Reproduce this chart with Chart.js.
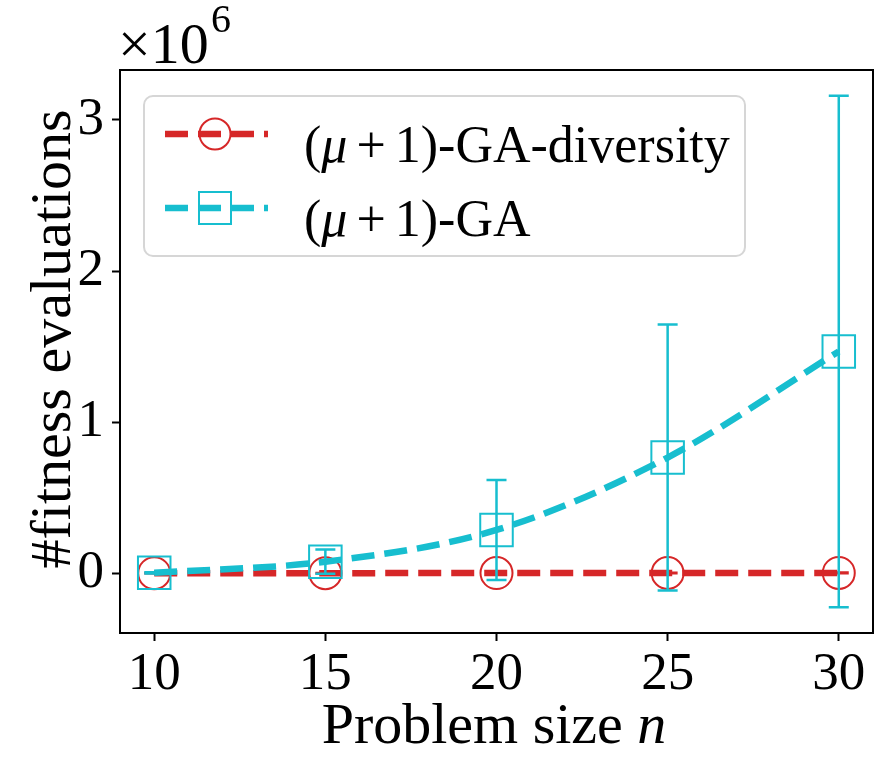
<!DOCTYPE html>
<html>
<head>
<meta charset="utf-8">
<script src="https://cdn.jsdelivr.net/npm/chart.js@4"></script>
<style>
  html, body { margin: 0; padding: 0; background: #fff; }
  #wrap { width: 888px; height: 773px; }
</style>
</head>
<body>
<div id="wrap"><canvas id="chart" width="888" height="773"></canvas></div>
<script>
// Problem sizes and fitness evaluations (in units of 1e6)
const sizes = [10, 15, 20, 25, 30];
const xTicks = [10, 15, 20, 25, 30];
const yTicks = [0, 1, 2, 3];

const diversityMean = [0.0005, 0.001, 0.0015, 0.002, 0.0025];
const diversityErr = [0.0005, 0.001, 0.0015, 0.002, 0.0025];

const gaMean = [0.003, 0.077, 0.287, 0.766, 1.468];
const gaErr = [0.004, 0.08, 0.331, 0.88, 1.692];

const RED = '#d62728';
const CYAN = '#17becf';
const SERIF = '"Liberation Serif", "DejaVu Serif", serif';
const FS = 53;
const PLOT_RIGHT = 873;

function toPoints(xs, ys) {
    return xs.map((x, i) => ({ x: x, y: ys[i] }));
}

// keep the plot area's right edge where the figure has it,
// instead of letting the last tick label push it in
const fixArea = {
    id: 'fixArea',
    afterLayout(chart) {
        const xs = chart.scales.x;
        chart.chartArea.right = PLOT_RIGHT;
        chart.chartArea.width = PLOT_RIGHT - chart.chartArea.left;
        xs.right = PLOT_RIGHT;
        xs.width = PLOT_RIGHT - xs.left;
        xs.configure();
    }
};

// error bars drawn through the chart scales
const errorBars = {
    id: 'errorBars',
    beforeDatasetDraw(chart, args) {
        const ds = chart.data.datasets[args.index];
        if (!ds.errors) return;
        const xs = chart.scales.x, ys = chart.scales.y;
        const ctx = chart.ctx;
        ctx.save();
        ctx.strokeStyle = ds.borderColor;
        ctx.lineWidth = 2.5;
        ctx.setLineDash([]);
        ds.data.forEach((p, i) => {
            const px = xs.getPixelForValue(p.x);
            const top = ys.getPixelForValue(p.y + ds.errors[i]);
            const bot = ys.getPixelForValue(p.y - ds.errors[i]);
            ctx.beginPath();
            ctx.moveTo(px, top); ctx.lineTo(px, bot);
            ctx.moveTo(px - 10, top); ctx.lineTo(px + 10, top);
            ctx.moveTo(px - 10, bot); ctx.lineTo(px + 10, bot);
            ctx.stroke();
        });
        ctx.restore();
    }
};

// draw a run of text pieces, some in italic
function drawMath(ctx, x, y, size, pieces) {
    pieces.forEach(([t, it]) => {
        ctx.font = (it ? 'italic ' : '') + size + 'px ' + SERIF;
        ctx.fillText(t, x, y);
        x += ctx.measureText(t).width;
    });
    return x;
}

const decorations = {
    id: 'decorations',
    afterDraw(chart) {
        const ctx = chart.ctx;
        const a = chart.chartArea;
        ctx.save();
        // frame
        ctx.strokeStyle = '#000';
        ctx.lineWidth = 2;
        ctx.strokeRect(a.left, a.top, a.right - a.left, a.bottom - a.top);

        ctx.fillStyle = '#000';
        ctx.textBaseline = 'alphabetic';
        ctx.textAlign = 'left';

        // offset text
        ctx.font = '58px ' + SERIF;
        ctx.fillText('\u00d710', 118, 63);
        ctx.font = '40px ' + SERIF;
        ctx.fillText('6', 211, 32);

        // x title
        ctx.font = '58px ' + SERIF;
        const w1 = ctx.measureText('Problem size ').width;
        ctx.font = 'italic 58px ' + SERIF;
        const w2 = ctx.measureText('n').width;
        drawMath(ctx, 494 - (w1 + w2) / 2, 743, 58, [['Problem size ', false], ['n', true]]);

        // y title
        ctx.save();
        ctx.translate(70, 339);
        ctx.rotate(-Math.PI / 2);
        ctx.textAlign = 'center';
        ctx.font = '58px ' + SERIF;
        ctx.fillText('#fitness evaluations', 0, 0);
        ctx.restore();

        // legend
        const lx = 144, ly = 96, lw = 601, lh = 160, r = 9;
        ctx.beginPath();
        ctx.moveTo(lx + r, ly);
        ctx.arcTo(lx + lw, ly, lx + lw, ly + lh, r);
        ctx.arcTo(lx + lw, ly + lh, lx, ly + lh, r);
        ctx.arcTo(lx, ly + lh, lx, ly, r);
        ctx.arcTo(lx, ly, lx + lw, ly, r);
        ctx.closePath();
        ctx.fillStyle = 'rgba(255,255,255,0.8)';
        ctx.fill();
        ctx.strokeStyle = '#d6d6d6';
        ctx.lineWidth = 2;
        ctx.stroke();

        const rows = [
            { y: 134, color: RED, marker: 'circle', label: '-GA-diversity' },
            { y: 208, color: CYAN, marker: 'rect', label: '-GA' }
        ];
        rows.forEach(row => {
            ctx.strokeStyle = row.color;
            ctx.lineWidth = 6.5;
            ctx.setLineDash([23, 10]);
            ctx.beginPath();
            ctx.moveTo(165, row.y); ctx.lineTo(268, row.y);
            ctx.stroke();
            ctx.setLineDash([]);
            ctx.lineWidth = 2;
            ctx.beginPath();
            if (row.marker === 'circle') {
                ctx.arc(215, row.y, 15.5, 0, Math.PI * 2);
            } else {
                ctx.rect(215 - 16, row.y - 16, 32, 32);
            }
            ctx.stroke();

            ctx.fillStyle = '#000';
            const by = row.y + 28;
            const ls = 52;
            let x = drawMath(ctx, 304, by, ls, [['(', false], ['\u03bc', true]]);
            x += 9;
            x = drawMath(ctx, x, by, ls, [['+', false]]);
            x += 9;
            drawMath(ctx, x, by, ls, [['1)', false], [row.label, false]]);
        });
        ctx.restore();
    }
};

const ctx = document.getElementById('chart').getContext('2d');
const chart = new Chart(ctx, {
    type: 'line',
    data: {
        datasets: [
            {
                label: '(\u03bc+1)-GA-diversity',
                data: toPoints(sizes, diversityMean),
                errors: diversityErr,
                borderColor: RED,
                borderWidth: 6.5,
                borderDash: [23, 10],
                pointStyle: 'circle',
                pointRadius: 16,
                pointBorderWidth: 2,
                pointBackgroundColor: 'rgba(0,0,0,0)',
                pointBorderColor: RED,
                fill: false,
                order: 2
            },
            {
                label: '(\u03bc+1)-GA',
                data: toPoints(sizes, gaMean),
                errors: gaErr,
                borderColor: CYAN,
                borderWidth: 6.5,
                borderDash: [23, 10],
                pointStyle: 'rect',
                pointRadius: 23,
                pointBorderWidth: 2,
                pointBackgroundColor: 'rgba(0,0,0,0)',
                pointBorderColor: CYAN,
                cubicInterpolationMode: 'monotone',
                fill: false,
                order: 1
            }
        ]
    },
    options: {
        responsive: false,
        animation: false,
        devicePixelRatio: 1,
        layout: { padding: { top: 70, right: 15, left: 0, bottom: 0 } },
        plugins: {
            legend: { display: false },
            tooltip: { enabled: false }
        },
        scales: {
            x: {
                type: 'linear',
                min: 9,
                max: 31,
                afterBuildTicks: axis => { axis.ticks = xTicks.map(v => ({ value: v })); },
                afterFit: axis => { axis.height = 140; },
                grid: { drawOnChartArea: false, drawTicks: true, tickLength: 8, tickWidth: 2, color: '#000' },
                border: { display: true, color: '#000', width: 2 },
                ticks: { color: '#000', font: { family: SERIF, size: FS }, padding: 2, maxRotation: 0 }
            },
            y: {
                type: 'linear',
                min: -0.395,
                max: 3.33,
                afterBuildTicks: axis => { axis.ticks = yTicks.map(v => ({ value: v })); },
                afterFit: axis => { axis.width = 120; },
                grid: { drawOnChartArea: false, drawTicks: true, tickLength: 8, tickWidth: 2, color: '#000' },
                border: { display: true, color: '#000', width: 2 },
                ticks: { color: '#000', font: { family: SERIF, size: FS }, padding: 8 }
            }
        }
    },
    plugins: [fixArea, errorBars, decorations]
});
</script>
</body>
</html>
